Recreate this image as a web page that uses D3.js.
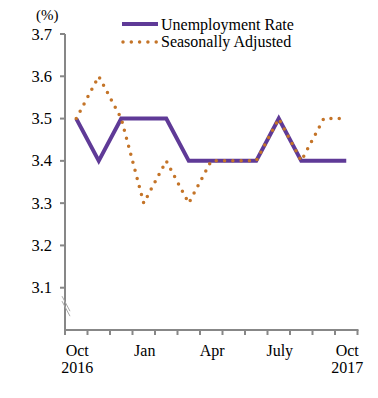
<!DOCTYPE html>
<html><head><meta charset="utf-8">
<script src="https://cdn.jsdelivr.net/npm/d3@7"></script>
<style>body{margin:0;background:#fff}svg{display:block}text{font-family:"Liberation Serif","Times New Roman",serif;fill:#000}</style>
</head><body>
<script>
const months = ["Oct 2016","Nov","Dec","Jan","Feb","Mar","Apr","May","Jun","July","Aug","Sep","Oct 2017"];
const unemployment = [3.5,3.4,3.5,3.5,3.5,3.4,3.4,3.4,3.4,3.5,3.4,3.4,3.4];
const seasonal = [3.5,3.6,3.5,3.3,3.4,3.3,3.4,3.4,3.4,3.5,3.4,3.5,3.5];
const yTicks = [3.1,3.2,3.3,3.4,3.5,3.6,3.7];
const xLabels = [[0,"Oct","2016"],[3,"Jan",""],[6,"Apr",""],[9,"July",""],[12,"Oct","2017"]];

const W=378,H=398;
const svg=d3.select("body").append("svg").attr("width",W).attr("height",H);
const x0=65,x1=357.5,yTop=34,yBot=330;
const x=d3.scaleBand().domain(d3.range(months.length)).range([x0,x1]);
const y=d3.scaleLinear().domain([3.0,3.7]).range([yBot,yTop]);
const gray="#878787";

// y axis
svg.append("line").attr("x1",x0).attr("x2",x0).attr("y1",yTop).attr("y2",yBot).attr("stroke",gray).attr("stroke-width",2);
yTicks.forEach(t=>{
  svg.append("line").attr("x1",x0-5).attr("x2",x0).attr("y1",y(t)).attr("y2",y(t)).attr("stroke",gray).attr("stroke-width",2);
  svg.append("text").attr("x",52).attr("y",y(t)+5.5).attr("text-anchor","end").attr("font-size",16.5).text(t.toFixed(1));
});
svg.append("text").attr("x",36).attr("y",20).attr("font-size",15).text("(%)");
// break marks
[0,5].forEach(d=>{
  svg.append("line").attr("x1",x0-3).attr("y1",y(3.08)+d).attr("x2",x0+5).attr("y2",y(3.08)+d+15).attr("stroke","#a8a8a8").attr("stroke-width",1);
});

// x axis
svg.append("line").attr("x1",x0-1).attr("x2",x1+1).attr("y1",yBot).attr("y2",yBot).attr("stroke",gray).attr("stroke-width",2);
d3.range(months.length+1).forEach(i=>{
  const xx = i<months.length ? x(i) : x1;
  svg.append("line").attr("x1",xx).attr("x2",xx).attr("y1",yBot).attr("y2",yBot+5).attr("stroke",gray).attr("stroke-width",2);
});
xLabels.forEach(([i,a,b])=>{
  const cx=x(i)+x.bandwidth()/2;
  svg.append("text").attr("x",cx+1).attr("y",356).attr("text-anchor","middle").attr("font-size",16).text(a);
  if(b) svg.append("text").attr("x",cx+1).attr("y",373).attr("text-anchor","middle").attr("font-size",16).text(b);
});

const line=d3.line().x((d,i)=>x(i)+x.bandwidth()/2).y(d=>y(d));
svg.append("path").datum(unemployment).attr("d",line).attr("fill","none").attr("stroke","#5f3a97").attr("stroke-width",4).attr("stroke-linejoin","miter");
svg.append("path").datum(seasonal).attr("d",line).attr("fill","none").attr("stroke","#c47428").attr("stroke-width",3.5).attr("stroke-linecap","round").attr("stroke-dasharray","0 8.3");

// legend
svg.append("line").attr("x1",122).attr("x2",158).attr("y1",24).attr("y2",24).attr("stroke","#5f3a97").attr("stroke-width",4);
svg.append("line").attr("x1",123).attr("x2",158).attr("y1",42).attr("y2",42).attr("stroke","#c47428").attr("stroke-width",3.5).attr("stroke-linecap","round").attr("stroke-dasharray","0 8.3");
svg.append("text").attr("x",161).attr("y",30).attr("font-size",16).text("Unemployment Rate");
svg.append("text").attr("x",161).attr("y",47).attr("font-size",16).text("Seasonally Adjusted");
</script>
</body></html>
